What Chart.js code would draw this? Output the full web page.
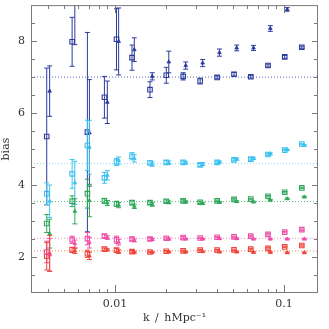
<!DOCTYPE html>
<html>
<head>
<meta charset="utf-8">
<script src="https://cdn.jsdelivr.net/npm/chart.js@4"></script>
<style>
  html, body { margin: 0; padding: 0; background: #fff; }
  #wrap { width: 329px; height: 329px; }
</style>
</head>
<body>
<div id="wrap"><canvas id="biasChart" width="329" height="329"></canvas></div>
<script>
// wavenumber bins (squares) and slightly shifted bins (triangles)
const kSq  = [0.00394, 0.00557, 0.00686, 0.00865, 0.0102, 0.0126, 0.0161, 0.0201, 0.0253, 0.0319, 0.0402, 0.0506, 0.0636, 0.0804, 0.1010, 0.1275];
const kTri = [0.00410, 0.00578, 0.00705, 0.00900, 0.0105, 0.0130, 0.0166, 0.0208, 0.0262, 0.0330, 0.0415, 0.0525, 0.0660, 0.0830, 0.1045, 0.1320];

const blueSq     = [5.35, 7.98, 5.47, 6.44, 8.05, 7.54, 6.65, 7.05, 7.02, 6.89, 6.99, 7.08, 7.01, 7.32, 7.56, 7.83];
const blueSqErr  = [1.90, 0.68, 2.77, 0.58, 0.85, 0.35, 0.22, 0.22, 0.10, 0.08, 0.04, 0.05, 0.04, 0.04, 0.04, 0.03];
const blueTri    = [6.61, 9.50, 5.45, 6.30, 7.99, 7.76, 7.02, 7.42, 7.32, 7.39, 7.68, 7.81, 7.81, 8.35, 8.88, 9.40];
const blueTriErr = [0.70, 1.60, 1.48, 0.59, 0.93, 0.33, 0.10, 0.30, 0.10, 0.10, 0.10, 0.08, 0.07, 0.08, 0.05, 0.06];

const cyanSq     = [3.76, 4.31, 5.10, 4.20, 4.64, 4.80, 4.62, 4.63, 4.63, 4.56, 4.63, 4.70, 4.72, 4.85, 4.97, 5.14];
const cyanSqErr  = [0.30, 0.40, 0.70, 0.15, 0.10, 0.10, 0.06, 0.05, 0.04, 0.04, 0.03, 0.03, 0.03, 0.03, 0.02, 0.02];
const cyanTri    = [3.55, 4.06, 5.05, 4.27, 4.68, 4.74, 4.58, 4.62, 4.62, 4.58, 4.64, 4.72, 4.74, 4.87, 4.98, 5.10];
const cyanTriErr = [0.45, 0.60, 0.75, 0.13, 0.10, 0.10, 0.06, 0.05, 0.04, 0.04, 0.03, 0.03, 0.03, 0.03, 0.02, 0.02];

const greenSq     = [2.93, 3.55, 3.76, 3.56, 3.48, 3.51, 3.51, 3.55, 3.56, 3.52, 3.56, 3.60, 3.61, 3.69, 3.80, 3.92];
const greenSqErr  = [0.25, 0.15, 0.40, 0.07, 0.07, 0.06, 0.05, 0.04, 0.03, 0.03, 0.02, 0.02, 0.02, 0.02, 0.02, 0.02];
const greenTri    = [2.65, 3.27, 3.57, 3.50, 3.44, 3.41, 3.46, 3.52, 3.53, 3.49, 3.52, 3.54, 3.53, 3.58, 3.62, 3.67];
const greenTriErr = [0.40, 0.35, 0.45, 0.07, 0.07, 0.06, 0.05, 0.04, 0.03, 0.03, 0.02, 0.02, 0.02, 0.02, 0.02, 0.02];

const pinkSq     = [2.14, 2.48, 2.51, 2.58, 2.48, 2.50, 2.50, 2.52, 2.54, 2.53, 2.55, 2.56, 2.58, 2.63, 2.69, 2.76];
const pinkSqErr  = [0.30, 0.10, 0.17, 0.05, 0.10, 0.05, 0.04, 0.03, 0.03, 0.02, 0.02, 0.02, 0.02, 0.02, 0.02, 0.02];
const pinkTri    = [2.06, 2.37, 2.40, 2.54, 2.41, 2.46, 2.49, 2.50, 2.50, 2.50, 2.51, 2.51, 2.50, 2.50, 2.50, 2.50];
const pinkTriErr = [0.45, 0.10, 0.15, 0.05, 0.08, 0.04, 0.03, 0.03, 0.02, 0.02, 0.02, 0.02, 0.02, 0.02, 0.02, 0.02];

const redSq     = [2.02, 2.20, 2.09, 2.22, 2.19, 2.15, 2.14, 2.16, 2.17, 2.19, 2.19, 2.20, 2.22, 2.24, 2.28, 2.32];
const redSqErr  = [0.38, 0.07, 0.10, 0.03, 0.05, 0.03, 0.02, 0.02, 0.02, 0.02, 0.02, 0.02, 0.02, 0.02, 0.02, 0.02];
const redTri    = [2.10, 2.17, 2.03, 2.20, 2.15, 2.13, 2.13, 2.14, 2.14, 2.15, 2.14, 2.14, 2.13, 2.13, 2.12, 2.12];
const redTriErr = [0.50, 0.07, 0.10, 0.03, 0.05, 0.03, 0.02, 0.02, 0.02, 0.02, 0.02, 0.02, 0.02, 0.02, 0.02, 0.02];

// dotted reference levels, one per sample
const refLevels = [7.0, 4.6, 3.54, 2.52, 2.17];

// axis range and tick marks
const xRange = [0.00318, 0.159];
const yRange = [1, 9];
const xMajor = [0.01, 0.1];
const xMinor = [0.004, 0.005, 0.006, 0.007, 0.008, 0.009, 0.02, 0.03, 0.04, 0.05, 0.06, 0.07, 0.08, 0.09];
const yMajor = [2, 4, 6, 8];
const yMinor = [1.5, 2.5, 3, 3.5, 4.5, 5, 5.5, 6.5, 7, 7.5, 8.5];

const colors = {
  blue:  { pt: '#2c3c9e', ref: '#5566bb' },
  cyan:  { pt: '#3cc2ee', ref: '#8fd9f2' },
  green: { pt: '#2ea85a', ref: '#55b878' },
  pink:  { pt: '#ee4fa8', ref: '#f08cc4' },
  red:   { pt: '#f0453c', ref: '#f08a5a' }
};

function pts(xs, ys) {
  return xs.map((x, i) => ({ x: x, y: ys[i] }));
}

function squares(ys, errs, c) {
  return {
    type: 'scatter', data: pts(kSq, ys), errs: errs,
    pointStyle: 'rect', pointRadius: 3.2, borderWidth: 1.1,
    borderColor: c, backgroundColor: 'rgba(0,0,0,0)', clip: 1, order: 1
  };
}

function triangles(ys, errs, c) {
  return {
    type: 'scatter', data: pts(kTri, ys), errs: errs,
    pointStyle: 'triangle', pointRadius: 2.1, borderWidth: 0.8,
    borderColor: c, backgroundColor: c, clip: 1, order: 1
  };
}

const series = [
  ['blue', blueSq, blueSqErr, blueTri, blueTriErr],
  ['cyan', cyanSq, cyanSqErr, cyanTri, cyanTriErr],
  ['green', greenSq, greenSqErr, greenTri, greenTriErr],
  ['pink', pinkSq, pinkSqErr, pinkTri, pinkTriErr],
  ['red', redSq, redSqErr, redTri, redTriErr]
];

const datasets = [];
series.forEach((s, i) => {
  const c = colors[s[0]];
  datasets.push(squares(s[1], s[2], c.pt));
  datasets.push(triangles(s[3], s[4], c.pt));
  datasets.push({
    type: 'line', data: [{ x: xRange[0], y: refLevels[i] }, { x: xRange[1], y: refLevels[i] }],
    borderColor: c.ref, borderWidth: 1, borderDash: [1, 2], pointRadius: 0, order: 5
  });
});

// vertical error bars with small caps
const errorBars = {
  id: 'errorBars',
  afterDatasetsDraw(chart) {
    const ctx = chart.ctx, a = chart.chartArea, ys = chart.scales.y;
    ctx.save();
    ctx.beginPath();
    ctx.rect(a.left, a.top, a.right - a.left, a.bottom - a.top);
    ctx.clip();
    chart.data.datasets.forEach((ds, di) => {
      if (!ds.errs) return;
      const meta = chart.getDatasetMeta(di);
      ctx.strokeStyle = ds.borderColor;
      ctx.lineWidth = 1;
      meta.data.forEach((p, i) => {
        const v = ds.data[i].y, e = ds.errs[i];
        const y1 = ys.getPixelForValue(v + e), y2 = ys.getPixelForValue(v - e);
        ctx.beginPath();
        ctx.moveTo(p.x, y1); ctx.lineTo(p.x, y2);
        ctx.moveTo(p.x - 2.5, y1); ctx.lineTo(p.x + 2.5, y1);
        ctx.moveTo(p.x - 2.5, y2); ctx.lineTo(p.x + 2.5, y2);
        ctx.stroke();
      });
    });
    ctx.restore();
  }
};

// frame with inward ticks on all four sides
const frame = {
  id: 'frame',
  afterDraw(chart) {
    const ctx = chart.ctx, a = chart.chartArea;
    const xs = chart.scales.x, ys = chart.scales.y;
    ctx.save();
    ctx.strokeStyle = '#7a7a7a';
    ctx.lineWidth = 1;
    ctx.strokeRect(a.left + 0.5, a.top + 0.5, a.right - a.left - 1, a.bottom - a.top - 1);
    ctx.beginPath();
    const xt = (v, len) => {
      const x = Math.round(xs.getPixelForValue(v)) + 0.5;
      ctx.moveTo(x, a.bottom); ctx.lineTo(x, a.bottom - len);
      ctx.moveTo(x, a.top); ctx.lineTo(x, a.top + len);
    };
    const yt = (v, len) => {
      const y = Math.round(ys.getPixelForValue(v)) + 0.5;
      ctx.moveTo(a.left, y); ctx.lineTo(a.left + len, y);
      ctx.moveTo(a.right, y); ctx.lineTo(a.right - len, y);
    };
    xMajor.forEach(v => xt(v, 8));
    xMinor.forEach(v => xt(v, 4));
    yMajor.forEach(v => yt(v, 6));
    yMinor.forEach(v => yt(v, 4));
    ctx.stroke();
    ctx.restore();
  }
};

const labelFont = { family: 'DejaVu Serif', size: 11 };

new Chart(document.getElementById('biasChart'), {
  type: 'scatter',
  data: { datasets: datasets },
  options: {
    responsive: false,
    animation: false,
    layout: { padding: { top: 4, right: 11, left: 0, bottom: 0 } },
    plugins: { legend: { display: false }, tooltip: { enabled: false } },
    scales: {
      x: {
        type: 'logarithmic', min: xRange[0], max: xRange[1],
        grid: { display: false, drawTicks: false },
        border: { display: false },
        afterBuildTicks: s => { s.ticks = xMajor.map(v => ({ value: v })); },
        afterFit: s => { s.height = 36; s.paddingLeft = 0; s.paddingRight = 0; },
        ticks: { color: '#333', font: labelFont, padding: 5, maxRotation: 0, callback: v => String(v) },
        title: { display: true, text: 'k\u2002/\u2002hMpc\u207B\u00B9', color: '#333', font: labelFont, padding: { top: 0, bottom: 4 } }
      },
      y: {
        min: yRange[0], max: yRange[1],
        grid: { display: false, drawTicks: false },
        border: { display: false },
        afterBuildTicks: s => { s.ticks = yMajor.map(v => ({ value: v })); },
        afterFit: s => { s.width = 31; s.paddingTop = 0; s.paddingBottom = 0; },
        ticks: { color: '#333', font: labelFont, padding: 6 },
        title: { display: true, text: 'bias', color: '#333', font: labelFont, padding: { top: 0, bottom: 0 } }
      }
    }
  },
  plugins: [errorBars, frame]
});
</script>
</body>
</html>
